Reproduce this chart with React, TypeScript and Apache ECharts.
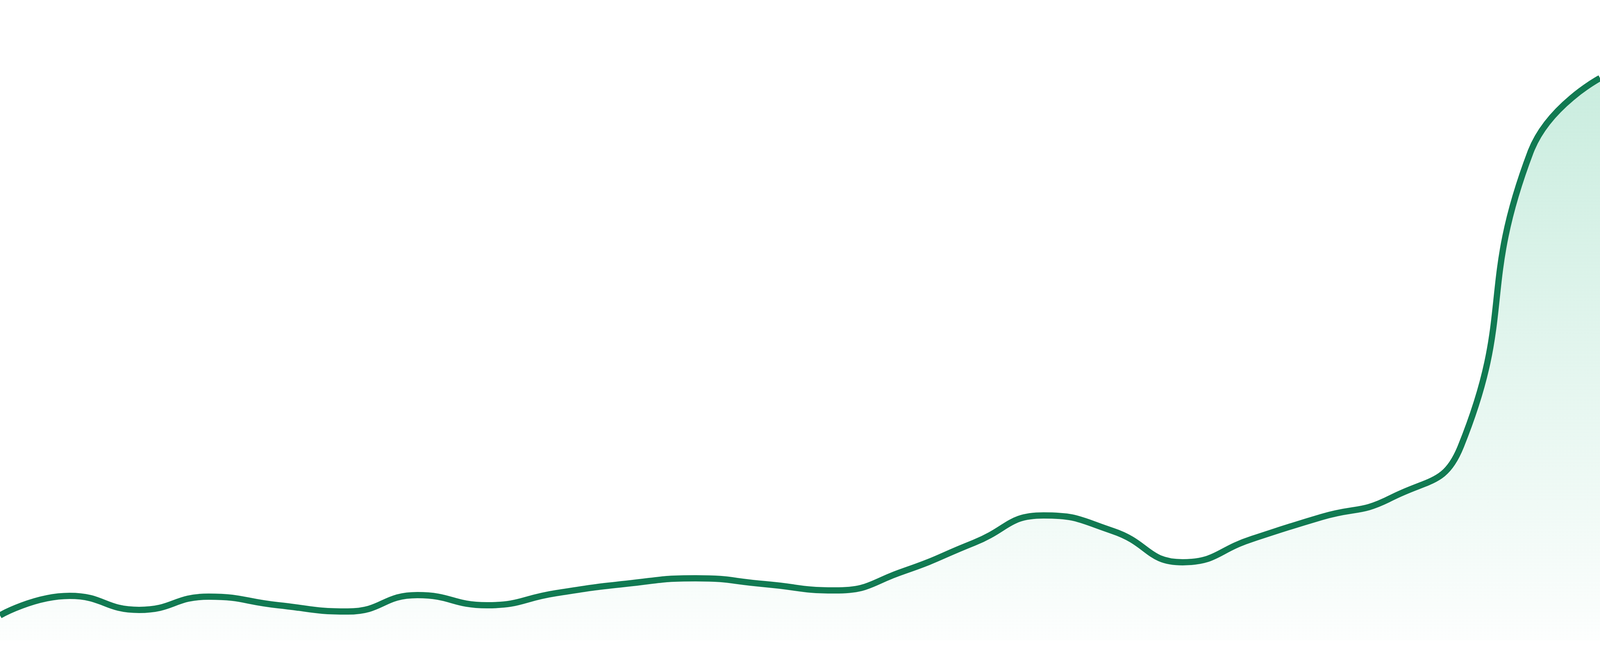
import React, { useEffect, useRef } from 'react';
import * as echarts from 'echarts';

// x positions (no labels are shown on the chart)
const periods = [
  'P01', 'P02', 'P03', 'P04', 'P05', 'P06', 'P07', 'P08',
  'P09', 'P10', 'P11', 'P12', 'P13', 'P14', 'P15', 'P16',
  'P17', 'P18', 'P19', 'P20', 'P21', 'P22', 'P23', 'P24',
];

// values, scale 0..100 (top of plot = 100)
const values = [
  3.9, 6.95, 4.76, 6.83, 5.49, 4.51, 7.07, 5.49,
  7.38, 8.84, 9.7, 8.78, 7.8, 10.85, 15.24, 19.51,
  17.07, 12.2, 15.85, 19.27, 22.26, 30.3, 76.22, 87.8,
];

const LINE_COLOR = '#117a52';
const AREA_TOP = '#b3e5d1';
const AREA_BOTTOM = 'rgba(179, 229, 209, 0.05)';

const App = (): JSX.Element => {
  const divEL = useRef<HTMLDivElement>(null);

  useEffect(() => {
    const instance = echarts.init(divEL.current as any, null, { renderer: 'svg' });

    const option: echarts.EChartsOption = {
      animation: false,
      grid: {
        top: 0,
        bottom: 40,
        left: 0,
        right: 0,
      },
      xAxis: {
        type: 'category',
        data: periods,
        boundaryGap: false,
        show: false,
      },
      yAxis: {
        type: 'value',
        min: 0,
        max: 100,
        show: false,
        splitLine: { show: false },
      },
      series: [
        {
          type: 'line',
          data: values,
          smooth: true,
          symbol: 'none',
          lineStyle: {
            color: LINE_COLOR,
            width: 16,
          },
          areaStyle: {
            color: new echarts.graphic.LinearGradient(0, 0, 0, 1, [
              { offset: 0, color: AREA_TOP },
              { offset: 1, color: AREA_BOTTOM },
            ]),
          },
        },
      ],
    };

    instance.setOption(option);

    return () => {
      instance.dispose();
    };
  }, []);

  // fill the browser window (it is narrower than 4800 here)
  return (
    <div
      ref={divEL}
      style={{ position: 'fixed', left: 0, top: 0, width: '100vw', height: '100vh' }}
    ></div>
  );
};

export default App;
